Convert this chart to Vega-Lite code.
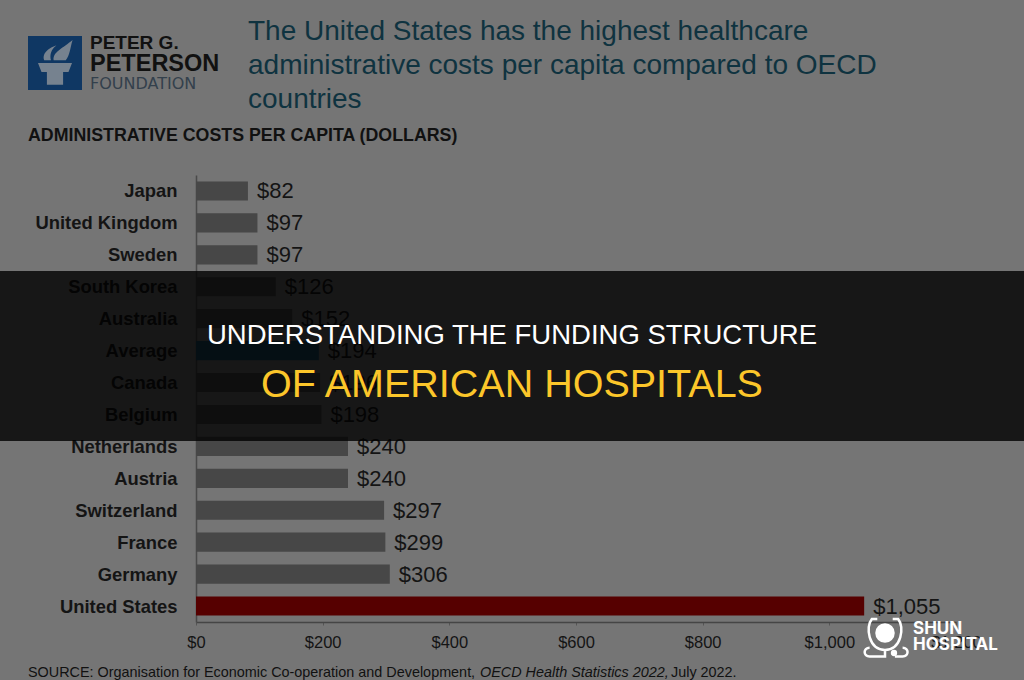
{"$schema":"https://vega.github.io/schema/vega-lite/v6.json","width":760,"height":447,"autosize":{"type":"none"},"padding":{"left":196,"top":175,"right":68,"bottom":58},"background":"#757575","config":{"view":{"stroke":null},"text":{"font":"Liberation Sans"}},"data":{"values":[{"country":"Japan","cost":82,"group":"Country"},{"country":"United Kingdom","cost":97,"group":"Country"},{"country":"Sweden","cost":97,"group":"Country"},{"country":"South Korea","cost":126,"group":"Country"},{"country":"Australia","cost":152,"group":"Country"},{"country":"Average","cost":194,"group":"Average"},{"country":"Canada","cost":196,"group":"Country"},{"country":"Belgium","cost":198,"group":"Country"},{"country":"Netherlands","cost":240,"group":"Country"},{"country":"Austria","cost":240,"group":"Country"},{"country":"Switzerland","cost":297,"group":"Country"},{"country":"France","cost":299,"group":"Country"},{"country":"Germany","cost":306,"group":"Country"},{"country":"United States","cost":1055,"group":"United States"}]},"resolve":{"scale":{"x":"independent","y":"independent"},"axis":{"x":"independent","y":"independent"}},"layer":[{"layer":[{"mark":{"type":"bar"},"encoding":{"y":{"field":"country","type":"nominal","sort":null,"scale":{"paddingInner":0.4,"paddingOuter":0.2},"axis":{"title":null,"ticks":false,"labelPadding":19,"labelFont":"Liberation Sans","labelFontWeight":"bold","labelFontSize":18.4,"labelOffset":0.5,"labelColor":"#141414","domainColor":"#4a4a4a","domainWidth":1.5,"labelLimit":300}},"x":{"field":"cost","type":"quantitative","scale":{"domain":[0,1200],"nice":false},"axis":{"title":null,"values":[0,200,400,600,800,1000,1200],"format":"$,.0f","grid":false,"labelFont":"Liberation Sans","labelFontSize":16.5,"labelColor":"#141414","labelPadding":9,"tickColor":"#555555","tickSize":3,"domainColor":"#454545","domainWidth":1.5,"labelFlush":false}},"color":{"field":"group","type":"nominal","scale":{"domain":["Country","Average","United States"],"range":["#474747","#1d4a66","#560000"]},"legend":null}}},{"mark":{"type":"text","align":"left","baseline":"middle","dx":9,"dy":0.5,"fontSize":22,"color":"#141414"},"encoding":{"y":{"field":"country","type":"nominal","sort":null},"x":{"field":"cost","type":"quantitative"},"text":{"field":"cost","type":"quantitative","format":"$,.0f"}}}]},{"layer":[{"data":{"values":[{"name":"band"}]},"mark":{"type":"rect","color":"#000000","opacity":0.8},"encoding":{"x":{"datum":0,"type":"quantitative","scale":{"domain":[196,956],"nice":false,"zero":false},"axis":null},"x2":{"datum":1024},"y":{"datum":271,"type":"quantitative","scale":{"domain":[622,175],"nice":false,"zero":false},"axis":null},"y2":{"datum":441}}},{"data":{"values":[{"label":"UNDERSTANDING THE FUNDING STRUCTURE"}]},"mark":{"type":"text","align":"center","baseline":"middle","fontSize":27.5,"color":"#ffffff"},"encoding":{"x":{"datum":512,"type":"quantitative"},"y":{"datum":336,"type":"quantitative"},"text":{"field":"label"}}},{"data":{"values":[{"label":"OF AMERICAN HOSPITALS"}]},"mark":{"type":"text","align":"center","baseline":"middle","fontSize":39.5,"color":"#fcc62a"},"encoding":{"x":{"datum":512,"type":"quantitative"},"y":{"datum":385,"type":"quantitative"},"text":{"field":"label"}}},{"data":{"values":[{"label":"The United States has the highest healthcare"}]},"mark":{"type":"text","align":"left","baseline":"middle","fontSize":28,"color":"#0f3340"},"encoding":{"x":{"datum":248,"type":"quantitative"},"y":{"datum":32,"type":"quantitative"},"text":{"field":"label"}}},{"data":{"values":[{"label":"administrative costs per capita compared to OECD"}]},"mark":{"type":"text","align":"left","baseline":"middle","fontSize":28,"color":"#0f3340"},"encoding":{"x":{"datum":248,"type":"quantitative"},"y":{"datum":66,"type":"quantitative"},"text":{"field":"label"}}},{"data":{"values":[{"label":"countries"}]},"mark":{"type":"text","align":"left","baseline":"middle","fontSize":28,"color":"#0f3340"},"encoding":{"x":{"datum":248,"type":"quantitative"},"y":{"datum":100,"type":"quantitative"},"text":{"field":"label"}}},{"data":{"values":[{"label":"ADMINISTRATIVE COSTS PER CAPITA (DOLLARS)"}]},"mark":{"type":"text","align":"left","baseline":"middle","fontSize":17.8,"fontWeight":"bold","color":"#111111"},"encoding":{"x":{"datum":28,"type":"quantitative"},"y":{"datum":136,"type":"quantitative"},"text":{"field":"label"}}},{"data":{"values":[{"label":"SOURCE: Organisation for Economic Co-operation and Development,"}]},"mark":{"type":"text","align":"left","baseline":"middle","fontSize":14.4,"color":"#111111"},"encoding":{"x":{"datum":28,"type":"quantitative"},"y":{"datum":673,"type":"quantitative"},"text":{"field":"label"}}},{"data":{"values":[{"label":"OECD Health Statistics 2022,"}]},"mark":{"type":"text","align":"left","baseline":"middle","fontSize":14.4,"fontStyle":"italic","color":"#111111"},"encoding":{"x":{"datum":480,"type":"quantitative"},"y":{"datum":673,"type":"quantitative"},"text":{"field":"label"}}},{"data":{"values":[{"label":"July 2022."}]},"mark":{"type":"text","align":"left","baseline":"middle","fontSize":14.4,"color":"#111111"},"encoding":{"x":{"datum":671,"type":"quantitative"},"y":{"datum":673,"type":"quantitative"},"text":{"field":"label"}}},{"data":{"values":[{"name":"logo box"}]},"mark":{"type":"rect","color":"#0f3763"},"encoding":{"x":{"datum":28,"type":"quantitative"},"x2":{"datum":82},"y":{"datum":36,"type":"quantitative"},"y2":{"datum":90}}},{"data":{"values":[{"name":"torch"}]},"mark":{"type":"point","filled":true,"opacity":1,"size":2916,"color":"#76828f","shape":"M-.63 0H.63L.5 .33H.3V.81H-.3V.33H-.5ZM-.4 -.1C-.5 -.4 -.15 -.6 .05 -.65C-.15 -.5 -.2 -.3 -.15 -.1ZM-.05 -.1C-.1 -.4 .3 -.55 .65 -.85C.55 -.5 .55 -.3 .4 -.1Z"},"encoding":{"x":{"datum":55,"type":"quantitative"},"y":{"datum":63,"type":"quantitative"}}},{"data":{"values":[{"label":"PETER G."}]},"mark":{"type":"text","align":"left","baseline":"middle","fontSize":19,"fontWeight":"bold","color":"#111111"},"encoding":{"x":{"datum":90,"type":"quantitative"},"y":{"datum":43,"type":"quantitative"},"text":{"field":"label"}}},{"data":{"values":[{"label":"PETERSON"}]},"mark":{"type":"text","align":"left","baseline":"middle","fontSize":23.5,"fontWeight":"bold","color":"#111111"},"encoding":{"x":{"datum":90,"type":"quantitative"},"y":{"datum":64,"type":"quantitative"},"text":{"field":"label"}}},{"data":{"values":[{"label":"FOUNDATION"}]},"mark":{"type":"text","align":"left","baseline":"middle","font":"DejaVu Sans","fontSize":16,"color":"#33404c"},"encoding":{"x":{"datum":90,"type":"quantitative"},"y":{"datum":84,"type":"quantitative"},"text":{"field":"label"}}},{"data":{"values":[{"name":"stethoscope disc"}]},"mark":{"type":"point","filled":true,"opacity":1,"size":380,"shape":"circle","color":"#ffffff"},"encoding":{"x":{"datum":885,"type":"quantitative"},"y":{"datum":633,"type":"quantitative"}}},{"data":{"values":[{"name":"stethoscope tube"}]},"mark":{"type":"point","filled":false,"opacity":1,"size":1936,"strokeWidth":2.5,"color":"#ffffff","shape":"M-.35 -.95H-.6C-.9 -.6 -.75 .45 0 .45C.75 .45 .9 -.6 .6 -.95H.35M0 .45V.75H-.7C-1 .75 -1 .35 -.7 .35M.45 .75H.8C1.1 .75 1.1 .35 .8 .35"},"encoding":{"x":{"datum":885,"type":"quantitative"},"y":{"datum":640,"type":"quantitative"}}},{"data":{"values":[{"name":"stethoscope dot"}]},"mark":{"type":"point","filled":true,"opacity":1,"size":40,"shape":"circle","color":"#ffffff"},"encoding":{"x":{"datum":894,"type":"quantitative"},"y":{"datum":653,"type":"quantitative"}}},{"data":{"values":[{"label":"SHUN"}]},"mark":{"type":"text","align":"left","baseline":"middle","font":"Inter","fontSize":17,"fontWeight":"bold","color":"#ffffff"},"encoding":{"x":{"datum":913,"type":"quantitative"},"y":{"datum":629,"type":"quantitative"},"text":{"field":"label"}}},{"data":{"values":[{"label":"HOSPITAL"}]},"mark":{"type":"text","align":"left","baseline":"middle","font":"Inter","fontSize":17,"fontWeight":"bold","color":"#ffffff"},"encoding":{"x":{"datum":913,"type":"quantitative"},"y":{"datum":645,"type":"quantitative"},"text":{"field":"label"}}}]}]}
